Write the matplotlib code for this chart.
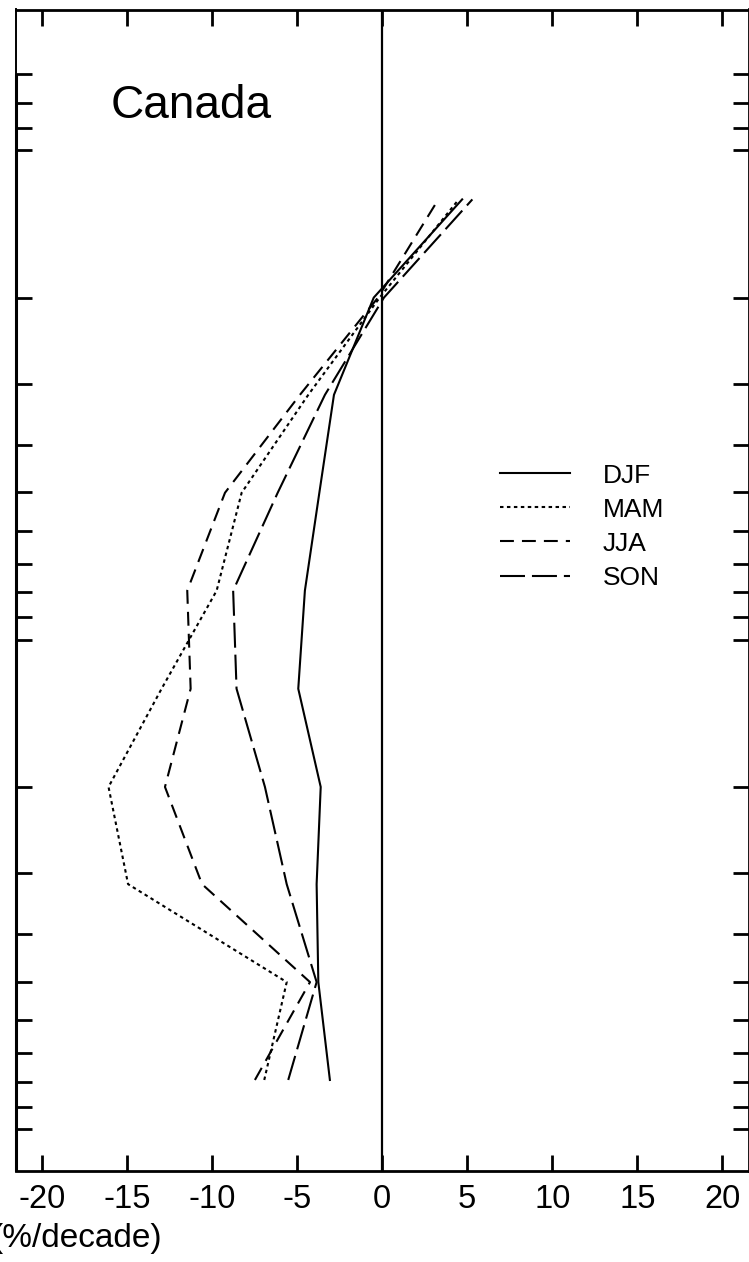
import matplotlib
matplotlib.use("Agg")
import matplotlib.pyplot as plt
import matplotlib.transforms as mtransforms
from matplotlib.ticker import FixedLocator, NullFormatter, NullLocator

plt.rcParams["font.family"] = ["Liberation Sans", "DejaVu Sans"]
plt.rcParams["lines.scale_dashes"] = False

# Layer pressure levels (hPa), from the lowest layer upwards
pressure = [794, 501, 316, 200, 126, 79.4, 50.1, 31.6, 20.0, 12.6]

# Seasonal ozone trends (%/decade) at each level
djf = [-3.08, -3.76, -3.86, -3.62, -4.94, -4.55, -3.70, -2.84, -0.50, 4.70]
mam = [-6.94, -5.62, -14.95, -16.10, -12.98, -9.74, -8.27, -4.35, -0.15, 4.50]
jja = [-7.49, -4.25, -10.60, -12.78, -11.27, -11.47, -9.25, -4.84, -0.25, 3.30]
son = [-5.53, -3.86, -5.62, -6.90, -8.57, -8.77, -6.15, -3.37, 0.10, 5.30]

seasons = ["DJF", "MAM", "JJA", "SON"]
x_ticks = [-20, -15, -10, -5, 0, 5, 10, 15, 20]
x_tick_labels = ["-20", "-15", "-10", "-5", "0", "5", "10", "15", "20"]
p_ticks = [7, 8, 9, 10, 20, 30, 40, 50, 60, 70, 80, 90, 100,
           200, 300, 400, 500, 600, 700, 800, 900, 1000]

W, H = 749, 1262
fig = plt.figure(figsize=(W / 100, H / 100), dpi=100)
ax_left, ax_right, ax_top, ax_bottom = 15.7, 748.8, 9.5, 1171.0
ax = fig.add_axes([ax_left / W, 1 - ax_bottom / H,
                   (ax_right - ax_left) / W, (ax_bottom - ax_top) / H])

styles = {
    "DJF": dict(linestyle="-"),
    "MAM": dict(linestyle=(0, (2.5, 2.5))),
    "JJA": dict(linestyle=(0, (10, 5.8))),
    "SON": dict(linestyle=(0, (18, 5))),
}
series = {"DJF": djf, "MAM": mam, "JJA": jja, "SON": son}

handles = []
for name in seasons:
    (ln,) = ax.plot(series[name], pressure, color="black", lw=1.5,
                    label=name, **styles[name])
    handles.append(ln)

ax.axvline(0, color="black", lw=1.6)

ax.set_yscale("log")
ax.set_xlim(-21.56, 21.56)
ax.set_ylim(1218.6, 5.156)

ax.set_xticks(x_ticks)
ax.set_xticklabels(x_tick_labels)
ax.yaxis.set_major_locator(FixedLocator(p_ticks))
ax.yaxis.set_minor_locator(NullLocator())
ax.yaxis.set_major_formatter(NullFormatter())
ax.xaxis.set_minor_locator(NullLocator())

ax.tick_params(axis="both", which="major", direction="in", length=11.2,
               width=2.0, top=True, right=True, labeltop=False,
               labelright=False, colors="black")
ax.tick_params(axis="x", labelsize=23.5, pad=9.5)

for side in ["top", "right", "bottom"]:
    ax.spines[side].set_linewidth(2.0)
ax.spines["left"].set_linewidth(1.4)

# heavier axis line along the left edge below the top tick
edge = mtransforms.blended_transform_factory(ax.transAxes, ax.transData)
ax.plot([0, 0], [7, 1218.6], transform=edge, color="black", lw=2.2,
        clip_on=False, solid_capstyle="butt")

ax.legend(handles, seasons, loc="center left",
          bbox_to_anchor=(0.6606, 0.5547), frameon=False, fontsize=19,
          handlelength=2.65, handletextpad=1.25, labelspacing=0.38,
          borderpad=0, borderaxespad=0)

fig.text(111 / W, 1 - 118 / H, "Canada", fontsize=33,
         ha="left", va="baseline")
fig.text(162.4 / W, 1 - 1247.5 / H, "(%/decade)", fontsize=24,
         ha="right", va="baseline")

fig.savefig("out.png", dpi=100)
